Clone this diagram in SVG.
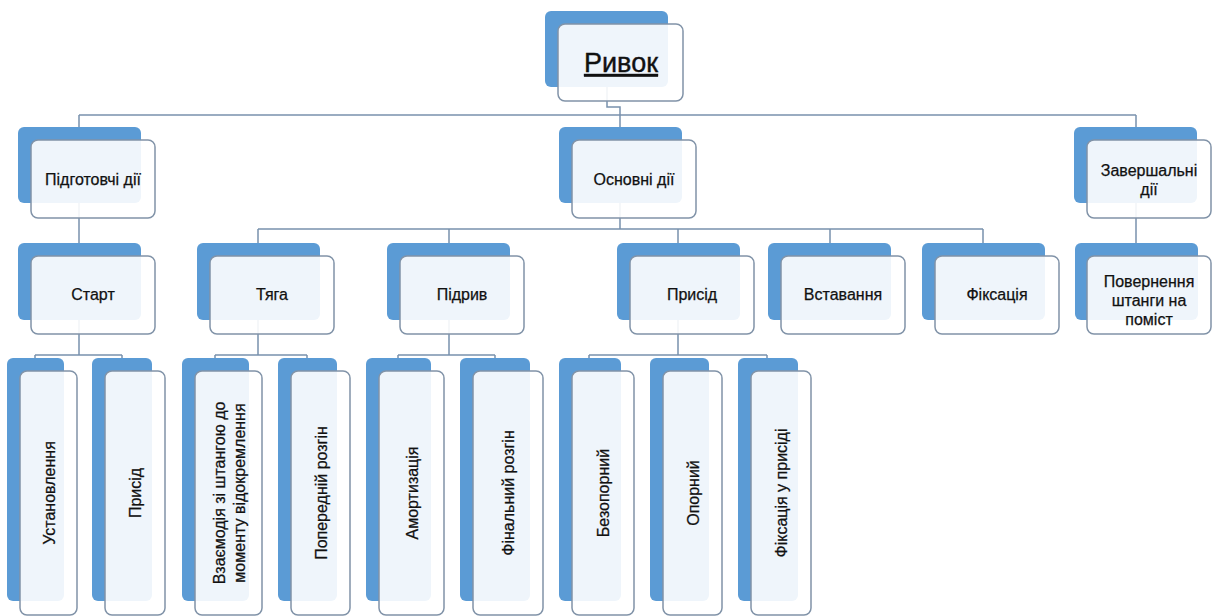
<svg xmlns="http://www.w3.org/2000/svg" width="1215" height="616" viewBox="0 0 1215 616">
<style>
.bk{fill:#5b9bd5;}
.fr{fill:#ffffff;fill-opacity:0.9;stroke:#8193a8;stroke-width:1.5;}
.cn{fill:none;stroke:#7891ad;stroke-width:1.5;}
text{font-family:"Liberation Sans",Arial,sans-serif;font-size:16px;fill:#111111;stroke:#111111;stroke-width:0.25;text-anchor:middle;}
.t1{font-size:27px;text-decoration:underline;stroke-width:0.4;}
</style>
<rect width="1215" height="616" fill="#ffffff"/>
<g id="connectors" class="cn">
<path d="M607,87 V107 H620 V127"/>
<path d="M79,115 H1136"/>
<path d="M79,115 V127 M1136,115 V127"/>
<path d="M79,203 V243"/>
<path d="M620,203 V229 M258,229 H983 M258,229 V243 M449,229 V243 M678,229 V243 M830,229 V243 M983,229 V243"/>
<path d="M1136,203 V243"/>
<path d="M79,320 V355 M35,355 H122 M35,355 V358 M122,355 V358"/>
<path d="M258,320 V355 M215,355 H307 M215,355 V358 M307,355 V358"/>
<path d="M449,320 V355 M398,355 H495 M398,355 V358 M495,355 V358"/>
<path d="M678,320 V355 M589,355 H767 M589,355 V358 M767,355 V358"/>
</g>
<g id="n-ryvok">
<rect class="bk" x="545" y="11" width="123" height="76" rx="6"/>
<rect class="fr" x="558" y="24" width="125" height="77" rx="7"/>
<text class="t1" x="621" y="72">Ривок</text>
</g>
<g id="n-pidgotovchi">
<rect class="bk" x="18" y="127" width="123" height="76" rx="6"/>
<rect class="fr" x="31" y="140" width="124" height="78" rx="7"/>
<text x="93" y="185">Підготовчі дії</text>
</g>
<g id="n-osnovni">
<rect class="bk" x="559" y="127" width="123" height="76" rx="6"/>
<rect class="fr" x="572" y="140" width="124" height="78" rx="7"/>
<text x="634" y="185">Основні дії</text>
</g>
<g id="n-zavershalni">
<rect class="bk" x="1074" y="127" width="123" height="76" rx="6"/>
<rect class="fr" x="1087" y="140" width="124" height="78" rx="7"/>
<text x="1149" y="176">Завершальні</text>
<text x="1149" y="195">дії</text>
</g>
<g id="n-start">
<rect class="bk" x="18" y="243" width="123" height="77" rx="6"/>
<rect class="fr" x="31" y="256" width="124" height="78" rx="7"/>
<text x="93" y="300">Старт</text>
</g>
<g id="n-tyaga">
<rect class="bk" x="197" y="243" width="123" height="77" rx="6"/>
<rect class="fr" x="210" y="256" width="124" height="78" rx="7"/>
<text x="272" y="300">Тяга</text>
</g>
<g id="n-pidryv">
<rect class="bk" x="387" y="243" width="123" height="77" rx="6"/>
<rect class="fr" x="400" y="256" width="124" height="78" rx="7"/>
<text x="462" y="300">Підрив</text>
</g>
<g id="n-prysid">
<rect class="bk" x="617" y="243" width="123" height="77" rx="6"/>
<rect class="fr" x="630" y="256" width="124" height="78" rx="7"/>
<text x="692" y="300">Присід</text>
</g>
<g id="n-vstavannya">
<rect class="bk" x="768" y="243" width="123" height="77" rx="6"/>
<rect class="fr" x="781" y="256" width="124" height="78" rx="7"/>
<text x="843" y="300">Вставання</text>
</g>
<g id="n-fiksatsiya">
<rect class="bk" x="922" y="243" width="123" height="77" rx="6"/>
<rect class="fr" x="935" y="256" width="124" height="78" rx="7"/>
<text x="997" y="300">Фіксація</text>
</g>
<g id="n-povernennya">
<rect class="bk" x="1075" y="243" width="123" height="77" rx="6"/>
<rect class="fr" x="1087" y="256" width="124" height="78" rx="7"/>
<text x="1149" y="287">Повернення</text>
<text x="1149" y="306">штанги на</text>
<text x="1149" y="325">поміст</text>
</g>
<g id="n-ustanovlennya">
<rect class="bk" x="7" y="358" width="57" height="243" rx="6"/>
<rect class="fr" x="20" y="371" width="57" height="244" rx="7"/>
<text transform="translate(48.5,493) rotate(-90)" x="0" y="6">Установлення</text>
</g>
<g id="n-prysid2">
<rect class="bk" x="92" y="358" width="60" height="243" rx="6"/>
<rect class="fr" x="105" y="371" width="60" height="244" rx="7"/>
<text transform="translate(135,493) rotate(-90)" x="0" y="6">Присід</text>
</g>
<g id="n-vzayemodiya">
<rect class="bk" x="182" y="358" width="67" height="243" rx="6"/>
<rect class="fr" x="195" y="371" width="67" height="244" rx="7"/>
<text transform="translate(218.5,493) rotate(-90)" x="0" y="6">Взаємодія зі штангою до</text>
<text transform="translate(238.5,493) rotate(-90)" x="0" y="6">моменту відокремлення</text>
</g>
<g id="n-poperedniy">
<rect class="bk" x="278" y="358" width="59" height="243" rx="6"/>
<rect class="fr" x="291" y="371" width="59" height="244" rx="7"/>
<text transform="translate(320.5,493) rotate(-90)" x="0" y="6">Попередній розгін</text>
</g>
<g id="n-amortyzatsiya">
<rect class="bk" x="366" y="358" width="65" height="243" rx="6"/>
<rect class="fr" x="379" y="371" width="65" height="244" rx="7"/>
<text transform="translate(411.5,493) rotate(-90)" x="0" y="6">Амортизація</text>
</g>
<g id="n-finalnyi">
<rect class="bk" x="460" y="358" width="70" height="243" rx="6"/>
<rect class="fr" x="473" y="371" width="70" height="244" rx="7"/>
<text transform="translate(508,493) rotate(-90)" x="0" y="6">Фінальний розгін</text>
</g>
<g id="n-bezopornyi">
<rect class="bk" x="559" y="358" width="62" height="243" rx="6"/>
<rect class="fr" x="572" y="371" width="62" height="244" rx="7"/>
<text transform="translate(603,493) rotate(-90)" x="0" y="6">Безопорний</text>
</g>
<g id="n-opornyi">
<rect class="bk" x="650" y="358" width="59" height="243" rx="6"/>
<rect class="fr" x="663" y="371" width="59" height="244" rx="7"/>
<text transform="translate(692.5,493) rotate(-90)" x="0" y="6">Опорний</text>
</g>
<g id="n-fiksatsiya-prysid">
<rect class="bk" x="738" y="358" width="60" height="243" rx="6"/>
<rect class="fr" x="751" y="371" width="60" height="244" rx="7"/>
<text transform="translate(781,493) rotate(-90)" x="0" y="6">Фіксація у присіді</text>
</g>
</svg>
